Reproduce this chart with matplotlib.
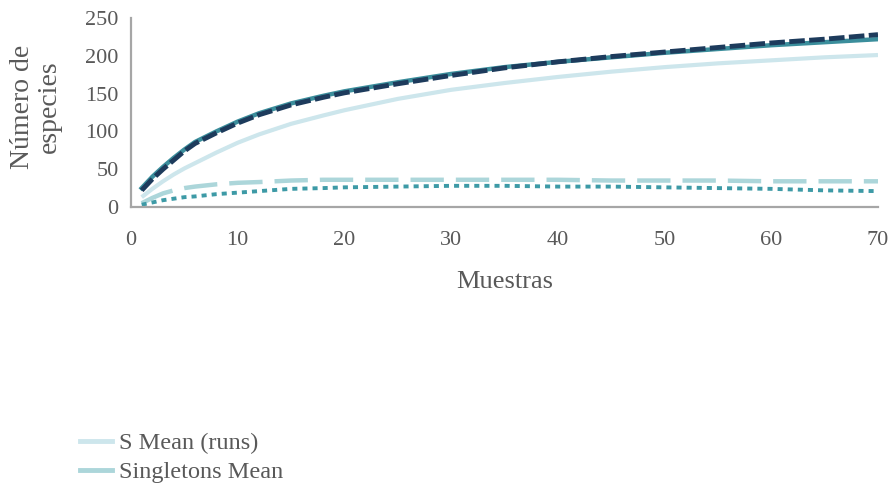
import matplotlib
matplotlib.use('Agg')
import matplotlib.pyplot as plt
from matplotlib.lines import Line2D

# species accumulation curves (mean of randomised runs)
muestras = [1, 2, 3, 4, 5, 6, 8, 10, 12, 15, 18, 20, 25, 30, 35, 40, 45, 50, 55, 60, 65, 70]
s_mean = [13, 24, 34, 43, 51, 58, 72, 85, 96, 110, 121, 128, 143, 155, 164, 172, 179, 185, 190, 194, 198, 201]
ace_mean = [25, 40, 53, 65, 76, 86, 100, 113, 124, 137, 147, 153, 165, 176, 185, 192, 198, 204, 209, 214, 218, 222]
chao_mean = [22, 37, 50, 62, 74, 84, 98, 111, 122, 135, 145, 151, 163, 174, 184, 192, 199, 205, 211, 217, 222, 228]
singletons = [5, 12, 18, 22, 25, 27, 30, 32, 33, 35, 36, 36, 36, 36, 36, 36, 35, 35, 35, 34, 34, 34]
doubletons = [3, 6, 9, 11, 13, 14, 17, 19, 21, 24, 25, 26, 27, 28, 28, 27, 27, 26, 25, 24, 22, 21]

c_s = '#cde6ec'
c_single = '#acd6da'
c_double = '#3d9aa6'
c_ace = '#3b8e9c'
c_chao = '#1d3b5c'

plt.rcParams['font.family'] = ['Liberation Serif', 'DejaVu Serif']

fig = plt.figure(figsize=(8.94, 4.86), dpi=100)
ax = fig.add_axes([131 / 894, 1 - 207 / 486, (878 - 131) / 894, (207 - 18) / 486])

ax.plot(muestras, s_mean, color=c_s, lw=3, solid_capstyle='butt')
ax.plot(muestras, singletons, color=c_single, lw=3.2, dashes=(7.5, 2.7))
ax.plot(muestras, doubletons, color=c_double, lw=2.8, dashes=(1.3, 1.3))
ax.plot(muestras, ace_mean, color=c_ace, lw=3.2)
ax.plot(muestras, chao_mean, color=c_chao, lw=3.5, dashes=(3.2, 0.9))

ax.set_xlim(0, 70)
ax.set_ylim(0, 250)
ax.set_xticks(range(0, 71, 10))
ax.set_yticks(range(0, 251, 50))
ax.tick_params(length=0, labelsize=16, colors='#595959')
ax.tick_params(axis='x', pad=17)
ax.tick_params(axis='y', pad=9)

for side in ['top', 'right']:
    ax.spines[side].set_visible(False)
for side in ['left', 'bottom']:
    ax.spines[side].set_color('#a6a6a6')
    ax.spines[side].set_linewidth(1.6)

ax.set_xlabel('Muestras', fontsize=19, color='#595959')
ax.xaxis.set_label_coords(0.5, -0.34)
ax.set_ylabel('Número de\nespecies', fontsize=20, color='#595959', linespacing=1.1)
ax.yaxis.set_label_coords(-0.092, 0.53)

handles = [Line2D([], [], color=c_s, lw=3.5), Line2D([], [], color=c_single, lw=3.5)]
fig.legend(handles, ['S Mean (runs)', 'Singletons Mean'], loc='upper left',
           bbox_to_anchor=(80 / 894, 1 - 432 / 486), frameon=False, fontsize=17.5,
           handlelength=1.3, handletextpad=0.3, labelspacing=0.3, labelcolor='#595959',
           borderaxespad=0, borderpad=0)

fig.savefig('out.png', dpi=100)
